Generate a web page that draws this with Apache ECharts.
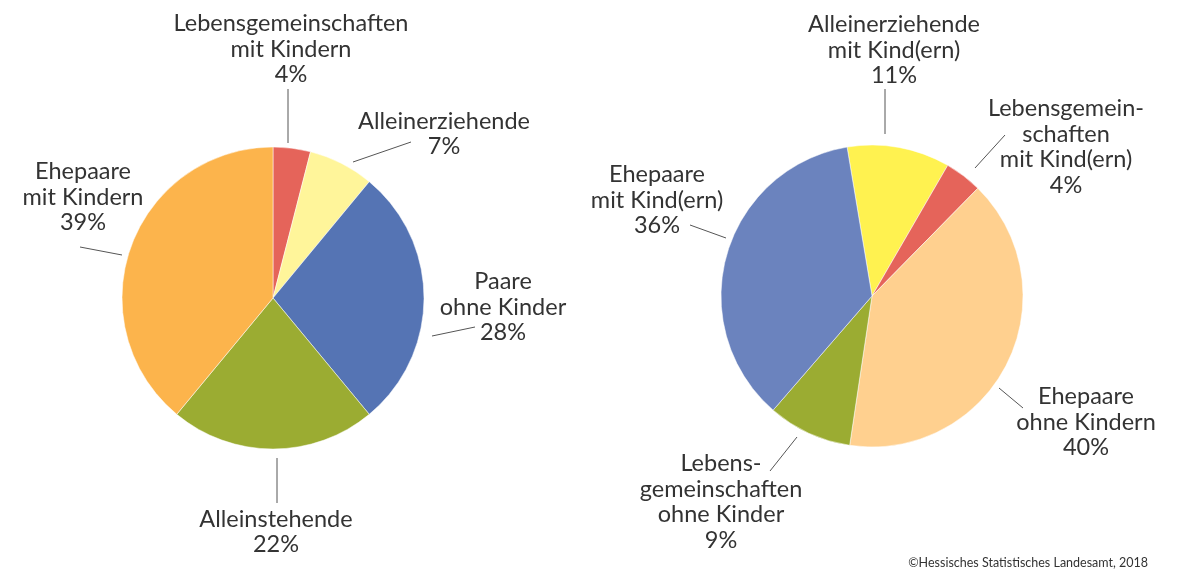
<!DOCTYPE html>
<html>
<head>
<meta charset="utf-8">
<script src="https://cdn.jsdelivr.net/npm/echarts@6/dist/echarts.min.js"></script>
<style>
  html, body { margin: 0; padding: 0; background: #fff; }
  #chart { width: 1186px; height: 574px; }
</style>
</head>
<body>
<div id="chart"></div>
<script>
// left pie: Haushalte nach Typ
const leftNames = ['Lebensgemeinschaften\nmit Kindern', 'Alleinerziehende', 'Paare\nohne Kinder', 'Alleinstehende', 'Ehepaare\nmit Kindern']
const leftValues = [4, 7, 28, 22, 39]
const leftColors = ['#E5645A', '#FFF59A', '#5574B4', '#9BAC32', '#FCB44C']

// right pie: Familien nach Typ
const rightNames = ['Alleinerziehende\nmit Kind(ern)', 'Lebensgemein-\nschaften\nmit Kind(ern)', 'Ehepaare\nohne Kindern', 'Lebens-\ngemeinschaften\nohne Kinder', 'Ehepaare\nmit Kind(ern)']
const rightValues = [11, 4, 40, 9, 36]
const rightColors = ['#FFF250', '#E5645A', '#FFD08F', '#9BAC32', '#6B83BE']

// label placement (label centre, leader line start/end)
const leftLabelPos = [
  { x: 291, y: 49, line: [[288, 143], [288, 89]] },
  { x: 444, y: 134, line: [[353, 162], [411, 142]] },
  { x: 503, y: 307, line: [[432, 336], [475, 327]] },
  { x: 276, y: 532, line: [[277, 458], [277, 503]] },
  { x: 83, y: 197, line: [[122, 255], [80, 247]] }
]
const rightLabelPos = [
  { x: 894, y: 50, line: [[885, 134], [885, 89]] },
  { x: 1066, y: 147, line: [[975, 168], [1005, 135]] },
  { x: 1086, y: 422, line: [[999, 388], [1023, 408]] },
  { x: 721, y: 502, line: [[797, 437], [770, 471]] },
  { x: 657, y: 200, line: [[726, 238], [690, 225]] }
]

const textFont = 'Lato, "Noto Sans", sans-serif'

const makePie = (names, values, colors, center, startAngle, pos) => ({
  type: 'pie',
  center: center,
  radius: 151,
  startAngle: startAngle,
  clockwise: true,
  avoidLabelOverlap: false,
  silent: true,
  emphasis: { disabled: true },
  itemStyle: { borderColor: '#fff', borderWidth: 0.5 },
  label: {
    show: true,
    position: 'outside',
    formatter: '{b}\n{c}%',
    color: '#333',
    fontSize: 23.5,
    lineHeight: 25.5,
    fontFamily: textFont,
    align: 'center'
  },
  labelLine: {
    show: true,
    length: 10,
    length2: 0,
    lineStyle: { color: '#555', width: 1 }
  },
  labelLayout: (params) => {
    const p = pos[params.dataIndex]
    return {
      x: p.x,
      y: p.y,
      align: 'center',
      verticalAlign: 'middle',
      labelLinePoints: p.line
    }
  },
  data: values.map((v, i) => ({
    value: v,
    name: names[i],
    itemStyle: { color: colors[i] }
  }))
})

const chart = echarts.init(document.getElementById('chart'))
chart.setOption({
  animation: false,
  graphic: [
    {
      type: 'text',
      right: 38,
      bottom: 5,
      style: {
        text: '©Hessisches Statistisches Landesamt, 2018',
        fill: '#333',
        font: '12.5px ' + textFont
      }
    }
  ],
  series: [
    makePie(leftNames, leftValues, leftColors, [273, 298], 90, leftLabelPos),
    makePie(rightNames, rightValues, rightColors, [872, 296], 99.5, rightLabelPos)
  ]
})
</script>
</body>
</html>
